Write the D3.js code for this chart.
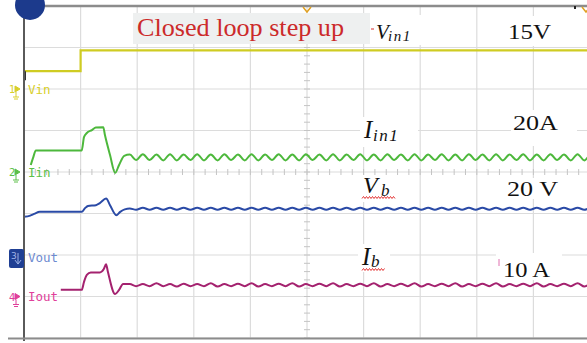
<!DOCTYPE html>
<html>
<head>
<meta charset="utf-8">
<script src="https://cdn.jsdelivr.net/npm/d3@7"></script>
<style>
body { margin: 0; background: #fff; }
svg { display: block; }
</style>
</head>
<body>
<svg width="587" height="343"></svg>
<script>
// scope screen is 10 x 8 divisions, all values below in divisions (0 = centre line)
var vinT = [0, 1.0, 1.0, 10.2];
var vinV = [2.43, 2.43, 2.93, 2.93];

var iinT = [0.12, 0.16, 0.21, 1.02, 1.06, 1.11, 1.20, 1.27, 1.40, 1.43, 1.52, 1.61, 1.68, 1.77, 1.87];
var iinV = [0.17, 0.34, 0.52, 0.52, 0.84, 0.94, 1.01, 1.07, 1.08, 0.89, 0.41, -0.02, 0.17, 0.39, 0.42];

var voutT = [0, 0.11, 0.18, 0.28, 1.02, 1.08, 1.13, 1.27, 1.34, 1.45, 1.52, 1.63, 1.70, 1.78, 1.87];
var voutV = [-1.08, -1.05, -1.01, -0.96, -0.96, -0.87, -0.82, -0.80, -0.75, -0.64, -0.80, -1.04, -0.96, -0.90, -0.88];

var ioutT = [0.65, 1.02, 1.06, 1.11, 1.18, 1.34, 1.41, 1.45, 1.48, 1.61, 1.68, 1.75, 1.87];
var ioutV = [-2.84, -2.84, -2.65, -2.48, -2.42, -2.42, -2.34, -2.22, -2.39, -2.94, -2.84, -2.70, -2.70];

// steady state ripple, sampled every half ripple period
var rippleT0 = 1.98, rippleStep = 0.12;
var iinRipple = [
  0.29, 0.43, 0.29, 0.42, 0.28, 0.43, 0.28, 0.42, 0.29, 0.43,
  0.28, 0.42, 0.28, 0.43, 0.29, 0.42, 0.28, 0.43, 0.28, 0.42,
  0.29, 0.43, 0.28, 0.42, 0.28, 0.43, 0.29, 0.42, 0.28, 0.43,
  0.28, 0.42, 0.29, 0.43, 0.28, 0.42, 0.28, 0.43, 0.29, 0.42,
  0.28, 0.43, 0.28, 0.42, 0.29, 0.43, 0.28, 0.42, 0.28, 0.43,
  0.29, 0.42, 0.28, 0.43, 0.28, 0.42, 0.29, 0.43, 0.28, 0.42,
  0.28, 0.43, 0.29, 0.42, 0.28, 0.43, 0.28, 0.42, 0.29];
var voutRipple = [
  -0.91, -0.86, -0.91, -0.86, -0.91, -0.86, -0.91, -0.86, -0.91, -0.86,
  -0.91, -0.86, -0.91, -0.86, -0.91, -0.86, -0.91, -0.86, -0.91, -0.86,
  -0.91, -0.86, -0.91, -0.86, -0.91, -0.86, -0.91, -0.86, -0.91, -0.86,
  -0.91, -0.86, -0.91, -0.86, -0.91, -0.86, -0.91, -0.86, -0.91, -0.86,
  -0.91, -0.86, -0.91, -0.86, -0.91, -0.86, -0.91, -0.86, -0.91, -0.86,
  -0.91, -0.86, -0.91, -0.86, -0.91, -0.86, -0.91, -0.86, -0.91, -0.86,
  -0.91, -0.86, -0.91, -0.86, -0.91, -0.86, -0.91, -0.86, -0.91];
var ioutRipple = [
  -2.75, -2.70, -2.75, -2.68, -2.75, -2.70, -2.76, -2.69, -2.75, -2.70,
  -2.75, -2.68, -2.76, -2.70, -2.75, -2.69, -2.75, -2.68, -2.76, -2.70,
  -2.75, -2.69, -2.75, -2.68, -2.76, -2.70, -2.75, -2.69, -2.75, -2.68,
  -2.76, -2.70, -2.75, -2.69, -2.75, -2.68, -2.76, -2.70, -2.75, -2.69,
  -2.75, -2.68, -2.76, -2.70, -2.75, -2.69, -2.75, -2.68, -2.76, -2.70,
  -2.75, -2.69, -2.75, -2.68, -2.76, -2.70, -2.75, -2.69, -2.75, -2.68,
  -2.76, -2.70, -2.75, -2.69, -2.75, -2.68, -2.76, -2.70, -2.75];

var channelNames = ["Vin", "Iin", "Vout", "Iout"];
var channelNums = ["1", "2", "3", "4"];
var channelLevels = [2.0, 0, -2.05, -3.0];
var channelColors = ["#d8cf2a", "#5cbf48", "#6d8ad0", "#e0409a"];
var traceColors = ["#cfcc22", "#4db83c", "#2a4aa6", "#a4226f"];

var title = "Closed loop step up";
var scaleLabels = ["15V", "20A", "20 V", "10 A"];

var svg = d3.select("svg");
var x = d3.scaleLinear().domain([0, 10]).range([24, 590]);
var y = d3.scaleLinear().domain([-4, 4]).range([338, 6]);

// grid
var grid = svg.append("g");
grid.selectAll(".vg").data(d3.range(0, 11)).enter().append("line")
    .attr("x1", d => x(d)).attr("x2", d => x(d))
    .attr("y1", y(4)).attr("y2", y(-4))
    .attr("stroke", "#dcdcdc").attr("stroke-width", 1.2);
grid.selectAll(".hg").data(d3.range(-4, 5)).enter().append("line")
    .attr("x1", x(0)).attr("x2", 587)
    .attr("y1", d => y(d)).attr("y2", d => y(d))
    .attr("stroke", "#dcdcdc").attr("stroke-width", 1.2);
// minor ticks on the centre lines
grid.selectAll(".mx").data(d3.range(0, 10.01, 0.2)).enter().append("line")
    .attr("x1", d => x(d)).attr("x2", d => x(d))
    .attr("y1", y(0) - 3).attr("y2", y(0) + 3)
    .attr("stroke", "#c4c4c4");
grid.selectAll(".my").data(d3.range(-4, 4.01, 0.2)).enter().append("line")
    .attr("x1", x(5) - 3).attr("x2", x(5) + 3)
    .attr("y1", d => y(d)).attr("y2", d => y(d))
    .attr("stroke", "#c4c4c4");

// white / grey boxes behind the annotations
var boxes = [
  [133, 13, 237, 31, "#eef0f0"],
  [370, 15, 70, 30, "#fff"],
  [496, 16, 80, 30, "#fff"],
  [360, 117, 58, 30, "#fff"],
  [511, 110, 66, 36, "#fff"],
  [360, 175, 38, 27, "#fff"],
  [500, 178, 66, 21, "#fff"],
  [358, 244, 32, 28, "#fff"],
  [496, 253, 66, 27, "#fff"]
];
svg.selectAll(".box").data(boxes).enter().append("rect")
    .attr("x", d => d[0]).attr("y", d => d[1])
    .attr("width", d => d[2]).attr("height", d => d[3])
    .attr("fill", d => d[4]);

// traces
function withRipple(t, v, r) {
  var pts = t.map((d, i) => [d, v[i]]);
  r.forEach((d, i) => pts.push([rippleT0 + i * rippleStep, d]));
  return pts;
}
var plot = svg.append("g");
var lineStep = d3.line().x(d => x(d[0])).y(d => y(d[1]));
var lineSmooth = d3.line().x(d => x(d[0])).y(d => y(d[1])).curve(d3.curveMonotoneX);

plot.append("path").datum(vinT.map((d, i) => [d, vinV[i]]))
    .attr("d", lineStep).attr("fill", "none")
    .attr("stroke", traceColors[0]).attr("stroke-width", 2.2);
plot.append("line").attr("x1", x(0) + 1).attr("x2", x(0) + 1)
    .attr("y1", y(vinV[0])).attr("y2", y(vinV[0]) + 9)
    .attr("stroke", "#333").attr("stroke-width", 2);

var series = [
  [withRipple(iinT, iinV, iinRipple), traceColors[1]],
  [withRipple(voutT, voutV, voutRipple), traceColors[2]],
  [withRipple(ioutT, ioutV, ioutRipple), traceColors[3]]
];
plot.selectAll(".trace").data(series).enter().append("path")
    .attr("d", d => lineSmooth(d[0])).attr("fill", "none")
    .attr("stroke", d => d[1]).attr("stroke-width", 2);

// frame
svg.append("line").attr("x1", x(0)).attr("x2", 587).attr("y1", 6).attr("y2", 6)
    .attr("stroke", "#8c8c8c").attr("stroke-width", 2.5);
svg.append("line").attr("x1", x(0)).attr("x2", x(0)).attr("y1", 6).attr("y2", 341)
    .attr("stroke", "#5a5a5a").attr("stroke-width", 2);
svg.append("line").attr("x1", 8).attr("x2", 587).attr("y1", 338.5).attr("y2", 338.5)
    .attr("stroke", "#8c8c8c").attr("stroke-width", 2);
svg.append("circle").attr("cx", 30).attr("cy", 5).attr("r", 15).attr("fill", "#1c3a8c");
svg.append("path").attr("d", "M303,7 L307,12 L311,7").attr("fill", "none")
    .attr("stroke", "#e0a020").attr("stroke-width", 1.5);
svg.append("path").attr("d", "M582,7 L586,12 L590,7").attr("fill", "none")
    .attr("stroke", "#e0a020").attr("stroke-width", 1.5);
svg.append("rect").attr("x", 574).attr("y", 6).attr("width", 2).attr("height", 3).attr("fill", "#222");

// channel markers on the left
var ch = svg.selectAll(".ch").data(channelNames).enter().append("g")
    .attr("transform", (d, i) => "translate(0," + y(channelLevels[i]) + ")");
ch.append("text").attr("x", 28).attr("y", 4.5)
    .attr("font-family", "DejaVu Sans Mono").attr("font-size", 12.5)
    .attr("fill", (d, i) => channelColors[i]).text(d => d);
ch.filter((d, i) => i != 2).append("text").attr("x", 9).attr("y", 4)
    .attr("font-family", "DejaVu Sans").attr("font-size", 10)
    .attr("fill", (d, i) => channelColors[[0, 1, 3][i]]).text((d, i) => channelNums[[0, 1, 3][i]]);
ch.filter((d, i) => i != 2).append("path").attr("d", "M15,-3 L20,0 L15,3 Z M16,3 L16,8 M13,8 L19,8 M14,10 L18,10")
    .attr("fill", (d, i) => channelColors[[0, 1, 3][i]])
    .attr("stroke", (d, i) => channelColors[[0, 1, 3][i]]).attr("stroke-width", 1);
var ch3 = ch.filter((d, i) => i == 2);
ch3.append("rect").attr("x", 9).attr("y", -8).attr("width", 15).attr("height", 19).attr("rx", 2)
    .attr("fill", "#1f3f94");
ch3.append("text").attr("x", 11).attr("y", 2).attr("font-family", "DejaVu Sans").attr("font-size", 9)
    .attr("fill", "#9fb4e8").text("3");
ch3.append("path").attr("d", "M18,-4 L18,6 M15,3 L18,7 L21,3").attr("fill", "none")
    .attr("stroke", "#9fb4e8");

// annotations
var serif = "Liberation Serif, Times New Roman, serif";
svg.append("text").attr("x", 137).attr("y", 36)
    .attr("font-family", serif).attr("font-size", 25).attr("fill", "#cc2a2a")
    .attr("textLength", 207).attr("lengthAdjust", "spacingAndGlyphs").text(title);
svg.append("line").attr("x1", 371).attr("x2", 374).attr("y1", 29).attr("y2", 29)
    .attr("stroke", "#e05050").attr("stroke-width", 1.2);

var valPos = [[508, 39, 22, 43], [513, 130, 20, 45], [507, 196, 21, 51], [503, 277, 21, 47]];
svg.selectAll(".val").data(scaleLabels).enter().append("text")
    .attr("x", (d, i) => valPos[i][0]).attr("y", (d, i) => valPos[i][1])
    .attr("font-family", serif).attr("font-size", (d, i) => valPos[i][2])
    .attr("textLength", (d, i) => valPos[i][3]).attr("lengthAdjust", "spacingAndGlyphs")
    .attr("fill", "#111").text(d => d);
svg.append("line").attr("x1", 499).attr("x2", 499).attr("y1", 259).attr("y2", 266)
    .attr("stroke", "#e070b0").attr("stroke-width", 1);

// symbol labels: [main, sub, x, baseline, size, subX, subBaseline, subSize]
var symbols = [
  ["V", "in1", 376, 39, 21, 388, 41, 15],
  ["I", "in1", 364, 138, 25, 373, 141, 17],
  ["V", "b", 363, 193, 24, 381, 196, 17],
  ["I", "b", 362, 265, 25, 371, 267, 17]
];
symbols.forEach(function(s) {
  var t = svg.append("text").attr("font-family", serif).attr("font-style", "italic").attr("fill", "#111");
  t.append("tspan").attr("x", s[2]).attr("y", s[3]).attr("font-size", s[4]).text(s[0]);
  t.append("tspan").attr("x", s[5]).attr("y", s[6]).attr("font-size", s[7])
      .attr("letter-spacing", s[1].length > 1 ? 1.5 : 0).text(s[1]);
});

// red squiggly underlines under V_b and I_b
[[362, 395, 197.5], [362, 385, 269.5]].forEach(function(u) {
  var pts = d3.range(u[0], u[1] + 0.1, 1.5).map((px, i) => [px, u[2] + (i % 2 ? -1 : 1)]);
  svg.append("path").attr("d", d3.line()(pts)).attr("fill", "none")
      .attr("stroke", "#e02020").attr("stroke-width", 0.9);
});
</script>
</body>
</html>
